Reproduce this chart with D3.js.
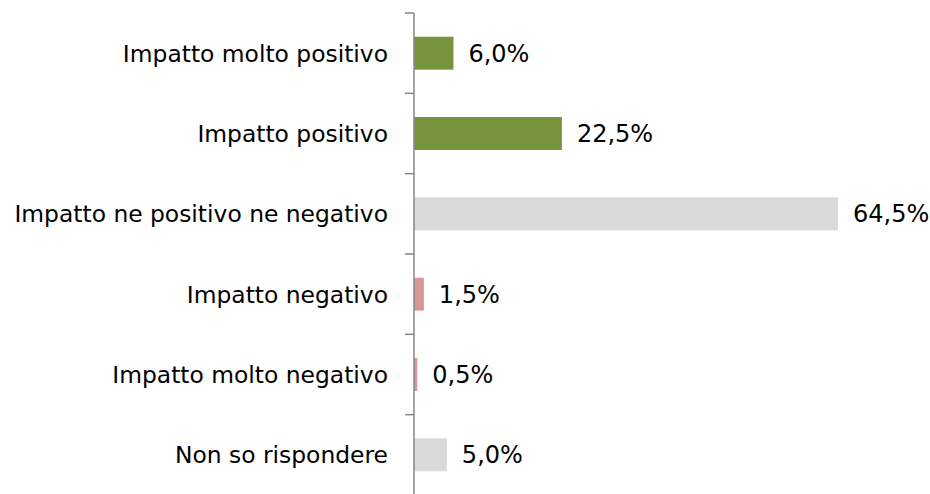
<!DOCTYPE html>
<html>
<head>
<meta charset="utf-8">
<script src="https://cdn.jsdelivr.net/npm/d3@7"></script>
<style>
  body { margin: 0; background: #fff; }
  #chart { width: 930px; height: 494px; }
</style>
</head>
<body>
<div id="chart"></div>
<script>
// Data
var categories = [
    "Impatto molto positivo",
    "Impatto positivo",
    "Impatto ne positivo ne negativo",
    "Impatto negativo",
    "Impatto molto negativo",
    "Non so rispondere"
];
var values = [6.0, 22.5, 64.5, 1.5, 0.5, 5.0];
var barColors = ["#77933C", "#77933C", "#D9D9D9", "#D99694", "#D99694", "#D9D9D9"];

var width = 930, height = 494;
var axisX = 414;
var font = "DejaVu Sans";

var svg = d3.select("#chart").append("svg")
    .attr("width", width)
    .attr("height", height);

var x = d3.scaleLinear()
    .domain([0, 64.5])
    .range([axisX, 838]);

var y = d3.scaleBand()
    .domain(categories)
    .range([13, 495])
    .paddingInner(0.59)
    .paddingOuter(0.295);

// Bars
svg.append("g").selectAll("rect")
    .data(values)
    .enter().append("rect")
    .attr("x", x(0))
    .attr("y", function(d, i) { return y(categories[i]); })
    .attr("width", function(d) { return x(d) - x(0); })
    .attr("height", y.bandwidth())
    .attr("fill", function(d, i) { return barColors[i]; });

// Value labels
svg.append("g").selectAll("text")
    .data(values)
    .enter().append("text")
    .attr("x", function(d) { return x(d) + 15; })
    .attr("y", function(d, i) { return y(categories[i]) + y.bandwidth() / 2; })
    .attr("dy", "0.36em")
    .attr("font-family", font)
    .attr("font-size", 24)
    .attr("fill", "#000")
    .text(function(d) { return d.toFixed(1).replace(".", ",") + "%"; });

// Category axis: ticks between the bands
var boundaries = categories.map(function(c) { return y(c) - y.step() * y.paddingInner() / 2; });
var ax = svg.append("g");
ax.append("line")
    .attr("x1", axisX).attr("x2", axisX)
    .attr("y1", 13).attr("y2", 495)
    .attr("stroke", "#868686")
    .attr("stroke-width", 1.5);
ax.selectAll(".tick")
    .data(boundaries)
    .enter().append("line")
    .attr("class", "tick")
    .attr("x1", axisX - 9).attr("x2", axisX)
    .attr("y1", function(d) { return d; })
    .attr("y2", function(d) { return d; })
    .attr("stroke", "#868686")
    .attr("stroke-width", 1.5);

ax.selectAll(".cat")
    .data(categories)
    .enter().append("text")
    .attr("class", "cat")
    .attr("x", 388)
    .attr("y", function(d) { return y(d) + y.bandwidth() / 2; })
    .attr("dy", "0.36em")
    .attr("text-anchor", "end")
    .attr("font-family", font)
    .attr("font-size", 23.4)
    .attr("fill", "#000")
    .text(function(d) { return d; });
</script>
</body>
</html>
